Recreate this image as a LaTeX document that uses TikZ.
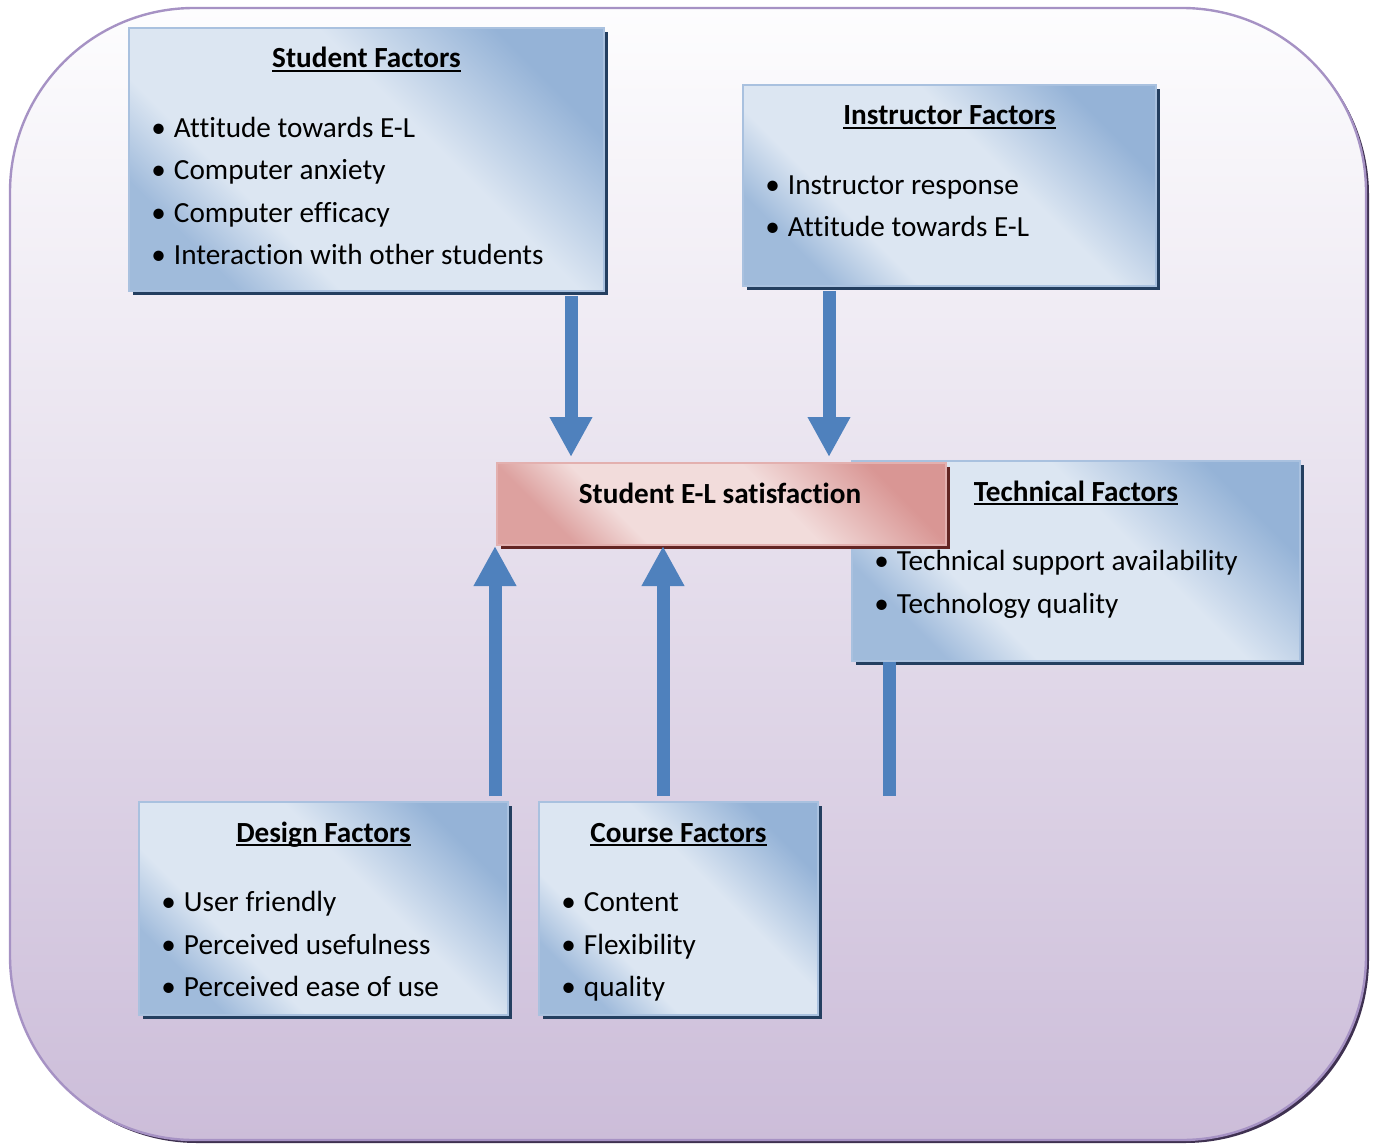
\documentclass[tikz,border=0pt]{standalone}
\usepackage{fontspec}
\setmainfont{Carlito}[Ligatures=NoCommon]
\usetikzlibrary{arrows.meta}
\usetikzlibrary{calc}
\usetikzlibrary{positioning}
\usetikzlibrary{shadows}

\definecolor{frametop}{HTML}{FDFDFE}
\definecolor{framefill}{HTML}{CCBDD9}
\definecolor{frameline}{HTML}{A692C4}
\definecolor{frameshadow}{HTML}{3F3151}
\definecolor{paneldark}{HTML}{95B3D7}
\definecolor{panellight}{HTML}{DCE6F2}
\definecolor{panelline}{HTML}{A9C1DF}
\definecolor{panelshadow}{HTML}{243F60}
\definecolor{goaldark}{HTML}{D99694}
\definecolor{goallight}{HTML}{F2DCDB}
\definecolor{goalline}{HTML}{E3B0AF}
\definecolor{goalshadow}{HTML}{632523}
\definecolor{flowblue}{HTML}{4F81BD}

\pgfdeclareverticalshading{panelshade}{100bp}{color(0bp)=(paneldark!85!panellight); color(25bp)=(paneldark!85!panellight);
  color(35bp)=(panellight); color(58bp)=(panellight); color(75bp)=(paneldark); color(100bp)=(paneldark)}
\pgfdeclareverticalshading{goalshade}{100bp}{color(0bp)=(goaldark!85!goallight); color(25bp)=(goaldark!85!goallight);
  color(35bp)=(goallight); color(58bp)=(goallight); color(75bp)=(goaldark); color(100bp)=(goaldark)}

\newcommand{\headtext}[1]{\setbox0\hbox{#1}\rlap{\rule[-2pt]{\wd0}{1.15pt}}\box0}
\newcommand{\bulletline}[1]{\makebox[11.3pt][l]{\textbullet}#1}

\tikzset{
  panel/.style={rectangle, inner sep=0pt, draw=panelline, line width=1pt,
    shading=panelshade, shading angle=-45,
    drop shadow={shadow xshift=2pt, shadow yshift=-2pt, opacity=1, fill=panelshadow}},
  goal/.style={rectangle, inner sep=0pt, draw=goalline, line width=1pt,
    shading=goalshade, shading angle=-45,
    drop shadow={shadow xshift=2pt, shadow yshift=-2pt, opacity=1, fill=goalshadow}},
  heading/.style={anchor=base, inner sep=0pt, font=\fontsize{14.6pt}{17pt}\selectfont\bfseries},
  item/.style={anchor=base west, inner sep=0pt, font=\fontsize{14.6pt}{17pt}\selectfont},
  flow/.style={draw=flowblue, line width=6.5pt, -{Triangle[width=20pt, length=20pt]}},
  link/.style={draw=flowblue, line width=6.5pt},
}

\begin{document}
\begin{tikzpicture}[x=0.5pt, y=-0.5pt]
    \useasboundingbox (0,0) rectangle (1374,1144);
    \fill[frameshadow, rounded corners=92pt] (13,11) rectangle (1369,1143);
    \draw[frameline, line width=1.2pt, rounded corners=92pt, top color=frametop, bottom color=framefill] (10,8) rectangle (1366,1140);

    \node[panel, minimum width=237.5pt, minimum height=131.5pt] (sf) at (366.5,159.5) {};
    \node[panel, minimum width=206.5pt, minimum height=100.5pt] (inf) at (949.5,185.5) {};
    \node[panel, minimum width=224pt, minimum height=100pt] (tf) at (1076,561) {};
    \node[goal, minimum width=224.5pt, minimum height=41pt] (sat) at (721.5,504) {};
    \node[panel, minimum width=184.5pt, minimum height=106.5pt] (df) at (323.5,908.5) {};
    \node[panel, minimum width=139.5pt, minimum height=106.5pt] (cf) at (678.5,908.5) {};

    \node[heading] (sfhead) at ($(sf.north)+(0,41)$) {\headtext{Student Factors}};
    \node[heading] (infhead) at ($(inf.north)+(0,41)$) {\headtext{Instructor Factors}};
    \node[heading] (tfhead) at ($(tf.north)+(0,41)$) {\headtext{Technical Factors}};
    \node[heading] (dfhead) at ($(df.north)+(0,41)$) {\headtext{Design Factors}};
    \node[heading] (cfhead) at ($(cf.north)+(0,41)$) {\headtext{Course Factors}};
    \node[heading] (sathead) at ($(sat.north)+(-1.5,41)$) {Student E-L satisfaction};

    \foreach \txt [count=\i] in {Attitude towards E-L, Computer anxiety, Computer efficacy, Interaction with other students}
      \node[item] (sf\i) at ($(sf.north west)+(23,68+42.5*\i)$) {\bulletline{\txt}};
    \foreach \txt [count=\i] in {Instructor response, Attitude towards E-L}
      \node[item] (inf\i) at ($(inf.north west)+(23,68+42.5*\i)$) {\bulletline{\txt}};
    \foreach \txt [count=\i] in {Technical support availability, Technology quality}
      \node[item] (tf\i) at ($(tf.north west)+(23,68+42.5*\i)$) {\bulletline{\txt}};
    \foreach \txt [count=\i] in {User friendly, Perceived usefulness, Perceived ease of use}
      \node[item] (df\i) at ($(df.north west)+(23,68+42.5*\i)$) {\bulletline{\txt}};
    \foreach \txt [count=\i] in {Content, Flexibility, quality}
      \node[item] (cf\i) at ($(cf.north west)+(23,68+42.5*\i)$) {\bulletline{\txt}};

    \coordinate (sfin) at ($(sat.north west)+(75,0)$);
    \coordinate (infin) at ($(sat.north west)+(333,0)$);
    \coordinate (dfin) at ($(sat.south west)+(-1,0)$);
    \coordinate (cfin) at ($(sat.south west)+(167,0)$);
    \coordinate (tfout) at ($(tf.south west)+(38,0)$);

    \draw[flow, shorten <=2pt, shorten >=2.5pt] (sf.south -| sfin) -- (sfin);
    \draw[flow, shorten <=2pt, shorten >=2.5pt] (inf.south -| infin) -- (infin);
    \draw[flow, shorten <=2.5pt] (df.north -| dfin) -- (dfin);
    \draw[flow, shorten <=2.5pt] (cf.north -| cfin) -- (cfin);
    \draw[link, shorten >=2.5pt] (tfout) -- (df.north -| tfout);
\end{tikzpicture}
\end{document}
